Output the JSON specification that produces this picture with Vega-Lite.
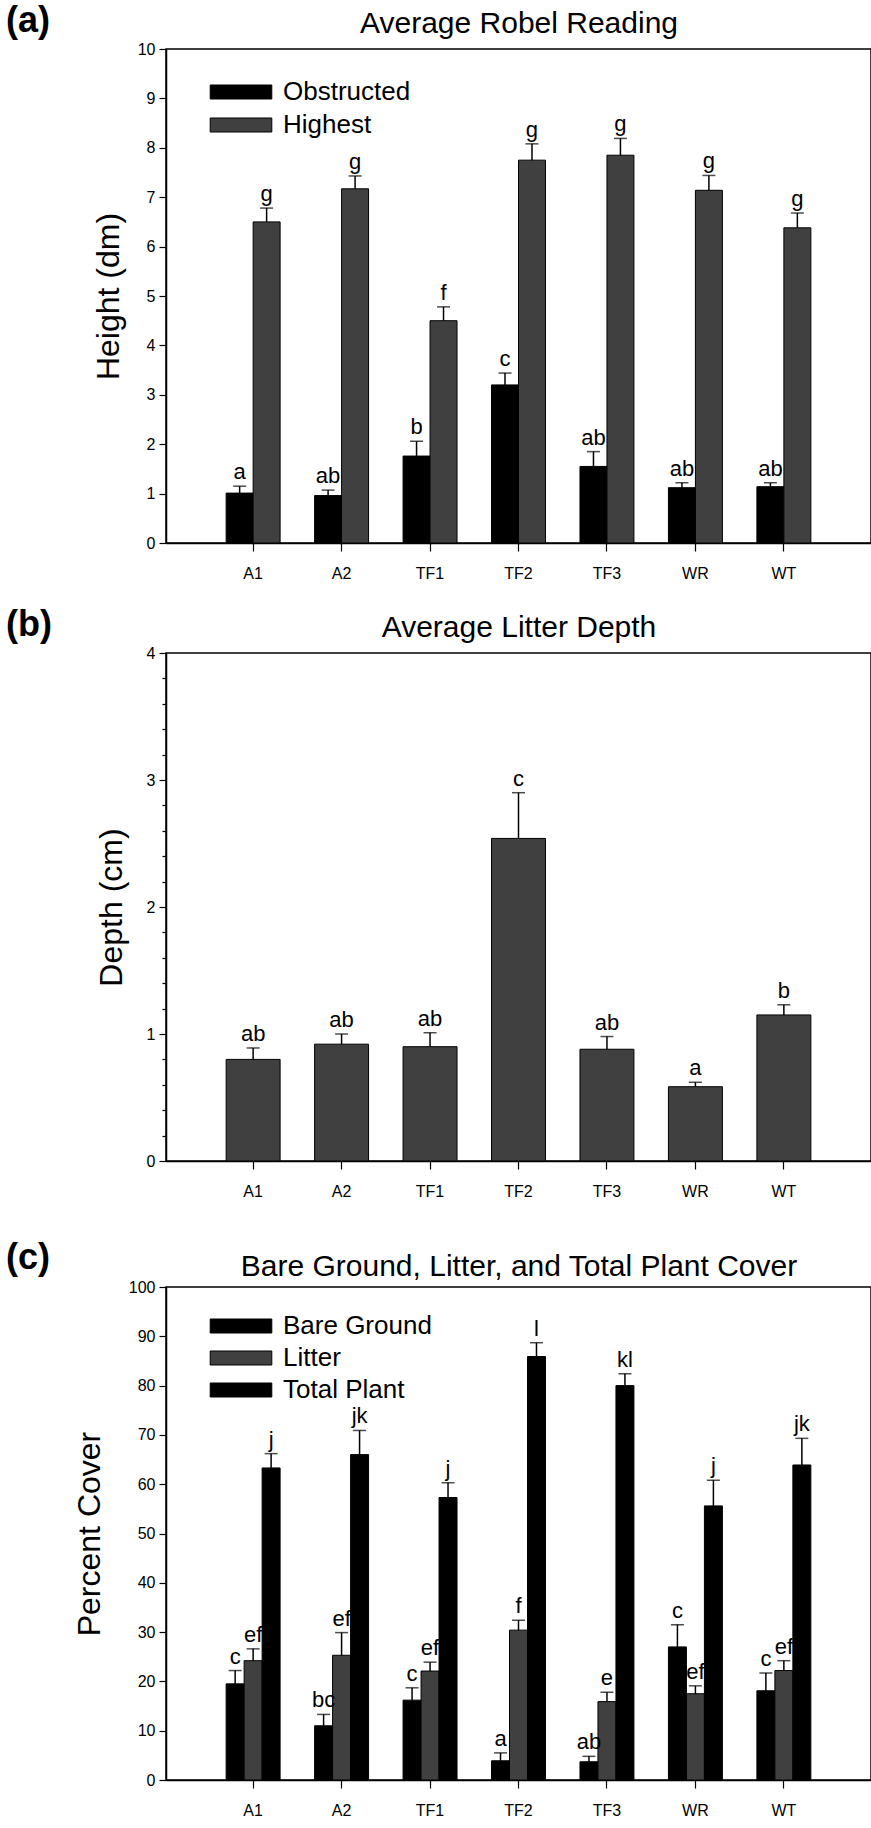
{
  "$schema": "https://vega.github.io/schema/vega-lite/v6.json",
  "background": "white",
  "padding": {"left": 5, "top": 2, "right": 0, "bottom": 0},
  "spacing": 39,
  "resolve": {"scale": {"color": "independent", "xOffset": "independent"}, "legend": {"color": "independent"}},
  "datasets": {
    "robel": [
      {"site": "A1", "measure": "Obstructed", "value": 1.01, "err": 1.15, "letter": "a"},
      {"site": "A1", "measure": "Highest", "value": 6.5, "err": 6.78, "letter": "g"},
      {"site": "A2", "measure": "Obstructed", "value": 0.96, "err": 1.07, "letter": "ab"},
      {"site": "A2", "measure": "Highest", "value": 7.17, "err": 7.43, "letter": "g"},
      {"site": "TF1", "measure": "Obstructed", "value": 1.76, "err": 2.06, "letter": "b"},
      {"site": "TF1", "measure": "Highest", "value": 4.5, "err": 4.78, "letter": "f"},
      {"site": "TF2", "measure": "Obstructed", "value": 3.2, "err": 3.44, "letter": "c"},
      {"site": "TF2", "measure": "Highest", "value": 7.75, "err": 8.08, "letter": "g"},
      {"site": "TF3", "measure": "Obstructed", "value": 1.55, "err": 1.85, "letter": "ab"},
      {"site": "TF3", "measure": "Highest", "value": 7.85, "err": 8.19, "letter": "g"},
      {"site": "WR", "measure": "Obstructed", "value": 1.12, "err": 1.22, "letter": "ab"},
      {"site": "WR", "measure": "Highest", "value": 7.14, "err": 7.44, "letter": "g"},
      {"site": "WT", "measure": "Obstructed", "value": 1.14, "err": 1.22, "letter": "ab"},
      {"site": "WT", "measure": "Highest", "value": 6.38, "err": 6.68, "letter": "g"}
    ],
    "litter": [
      {"site": "A1", "value": 0.8, "err": 0.89, "letter": "ab"},
      {"site": "A2", "value": 0.92, "err": 1.0, "letter": "ab"},
      {"site": "TF1", "value": 0.9, "err": 1.01, "letter": "ab"},
      {"site": "TF2", "value": 2.54, "err": 2.9, "letter": "c"},
      {"site": "TF3", "value": 0.88, "err": 0.98, "letter": "ab"},
      {"site": "WR", "value": 0.585, "err": 0.62, "letter": "a"},
      {"site": "WT", "value": 1.15, "err": 1.23, "letter": "b"}
    ],
    "cover": [
      {"site": "A1", "measure": "Bare Ground", "value": 19.5, "err": 22.2, "letter": "c"},
      {"site": "A1", "measure": "Litter", "value": 24.2, "err": 26.6, "letter": "ef"},
      {"site": "A1", "measure": "Total Plant", "value": 63.3, "err": 66.2, "letter": "j"},
      {"site": "A2", "measure": "Bare Ground", "value": 11.0, "err": 13.3, "letter": "bc"},
      {"site": "A2", "measure": "Litter", "value": 25.3, "err": 29.9, "letter": "ef"},
      {"site": "A2", "measure": "Total Plant", "value": 66.0, "err": 70.9, "letter": "jk"},
      {"site": "TF1", "measure": "Bare Ground", "value": 16.2, "err": 18.7, "letter": "c"},
      {"site": "TF1", "measure": "Litter", "value": 22.1, "err": 23.9, "letter": "ef"},
      {"site": "TF1", "measure": "Total Plant", "value": 57.3, "err": 60.3, "letter": "j"},
      {"site": "TF2", "measure": "Bare Ground", "value": 3.9, "err": 5.5, "letter": "a"},
      {"site": "TF2", "measure": "Litter", "value": 30.4, "err": 32.4, "letter": "f"},
      {"site": "TF2", "measure": "Total Plant", "value": 85.9, "err": 88.7, "letter": "l"},
      {"site": "TF3", "measure": "Bare Ground", "value": 3.7, "err": 4.8, "letter": "ab"},
      {"site": "TF3", "measure": "Litter", "value": 15.9, "err": 17.8, "letter": "e"},
      {"site": "TF3", "measure": "Total Plant", "value": 80.0, "err": 82.4, "letter": "kl"},
      {"site": "WR", "measure": "Bare Ground", "value": 27.0, "err": 31.5, "letter": "c"},
      {"site": "WR", "measure": "Litter", "value": 17.5, "err": 19.1, "letter": "ef"},
      {"site": "WR", "measure": "Total Plant", "value": 55.6, "err": 60.8, "letter": "j"},
      {"site": "WT", "measure": "Bare Ground", "value": 18.1, "err": 21.7, "letter": "c"},
      {"site": "WT", "measure": "Litter", "value": 22.2, "err": 24.2, "letter": "ef"},
      {"site": "WT", "measure": "Total Plant", "value": 63.9, "err": 69.3, "letter": "jk"}
    ]
  },
  "config": {
    "font": "Liberation Sans",
    "view": {"stroke": "black", "strokeWidth": 1.5},
    "axis": {
      "domainColor": "black", "domainWidth": 1.5, "tickColor": "black", "tickWidth": 1.2,
      "labelColor": "black", "titleColor": "black", "titleFontWeight": "normal", "grid": false,
      "labelFontSize": 16, "labelOverlap": false
    },
    "text": {"color": "black"}
  },
  "vconcat": [
    {
      "spacing": 24,
      "resolve": {"scale": {"color": "independent", "xOffset": "independent"}, "legend": {"color": "independent"}},
      "vconcat": [
        {
          "width": 705, "height": 494,
          "title": {"text": "(a)", "anchor": "start", "frame": "group", "fontSize": 36, "fontWeight": "bold", "dx": -160, "dy": 36},
          "data": {"name": "robel"},
          "resolve": {"axis": {"x": "independent"}},
          "layer": [
            {
              "mark": {"type": "bar", "stroke": "black", "strokeWidth": 1},
              "encoding": {
                "x": {"field": "site", "type": "nominal", "sort": ["A1","A2","TF1","TF2","TF3","WR","WT"], "scale": {"paddingInner": 0.39, "paddingOuter": 0.68},
                      "axis": {"orient": "bottom", "title": null, "labelAngle": 0, "tickSize": 8, "labelPadding": 14}},
                "xOffset": {"field": "measure", "type": "nominal", "sort": ["Obstructed","Highest"]},
                "y": {"field": "value", "type": "quantitative", "title": "Height (dm)", "scale": {"domain": [0, 10], "nice": false},
                      "axis": {"values": [0,1,2,3,4,5,6,7,8,9,10], "tickSize": 7, "labelPadding": 4, "titleFontSize": 32, "titlePadding": 12}},
                "color": {"field": "measure", "type": "nominal", "sort": ["Obstructed","Highest"],
                          "scale": {"domain": ["Obstructed","Highest"], "range": ["#000000","#404040"]},
                          "legend": {"title": null, "orient": "none", "legendX": 62, "legendY": 30, "padding": 0,
                                     "symbolType": "M-4.4,-1H4.4V1H-4.4Z", "symbolSize": 196, "symbolStrokeColor": "black", "symbolStrokeWidth": 1,
                                     "labelFontSize": 26, "labelOffset": 29, "rowPadding": 7, "labelColor": "black"}}
              }
            },
            {
              "mark": {"type": "rule", "strokeWidth": 1.5, "color": "black"},
              "encoding": {
                "x": {"field": "site", "type": "nominal", "sort": ["A1","A2","TF1","TF2","TF3","WR","WT"], "axis": null},
                "xOffset": {"field": "measure", "type": "nominal", "sort": ["Obstructed","Highest"]},
                "y": {"field": "value", "type": "quantitative", "title": "Height (dm)", "scale": {"domain": [0, 10], "nice": false}},
                "y2": {"field": "err"}
              }
            },
            {
              "mark": {"type": "tick", "orient": "horizontal", "size": 13, "thickness": 1.5, "color": "black"},
              "encoding": {
                "x": {"field": "site", "type": "nominal", "sort": ["A1","A2","TF1","TF2","TF3","WR","WT"], "axis": null},
                "xOffset": {"field": "measure", "type": "nominal", "sort": ["Obstructed","Highest"]},
                "y": {"field": "err", "type": "quantitative", "title": "Height (dm)", "scale": {"domain": [0, 10], "nice": false}}
              }
            },
            {
              "mark": {"type": "text", "baseline": "bottom", "dy": -2, "fontSize": 22},
              "encoding": {
                "x": {"field": "site", "type": "nominal", "sort": ["A1","A2","TF1","TF2","TF3","WR","WT"],
                      "axis": {"orient": "top", "title": "Average Robel Reading", "labels": false, "ticks": false, "domain": false, "titleFontSize": 30, "titlePadding": 11}},
                "xOffset": {"field": "measure", "type": "nominal", "sort": ["Obstructed","Highest"]},
                "y": {"field": "err", "type": "quantitative", "title": "Height (dm)", "scale": {"domain": [0, 10], "nice": false}},
                "text": {"field": "letter"}
              }
            }
          ]
        },
        {
          "width": 705, "height": 508,
          "title": {"text": "(b)", "anchor": "start", "frame": "group", "fontSize": 36, "fontWeight": "bold", "dx": -160, "dy": 36},
          "data": {"name": "litter"},
          "resolve": {"axis": {"x": "independent", "y": "independent"}},
          "layer": [
            {
              "mark": {"type": "bar", "stroke": "black", "strokeWidth": 1, "color": "#404040"},
              "encoding": {
                "x": {"field": "site", "type": "nominal", "sort": ["A1","A2","TF1","TF2","TF3","WR","WT"], "scale": {"paddingInner": 0.39, "paddingOuter": 0.68},
                      "axis": {"orient": "bottom", "title": null, "labelAngle": 0, "tickSize": 8, "labelPadding": 14}},
                "y": {"field": "value", "type": "quantitative", "title": "Depth (cm)", "scale": {"domain": [0, 4], "nice": false},
                      "axis": {"orient": "left", "values": [0,1,2,3,4], "tickSize": 7, "labelPadding": 4, "titleFontSize": 32, "titlePadding": 18}}
              }
            },
            {
              "mark": {"type": "rule", "strokeWidth": 1.5, "color": "black"},
              "encoding": {
                "x": {"field": "site", "type": "nominal", "sort": ["A1","A2","TF1","TF2","TF3","WR","WT"], "axis": null},
                "y": {"field": "value", "type": "quantitative", "scale": {"domain": [0, 4], "nice": false},
                      "axis": {"orient": "left", "title": null, "values": [0.2,0.4,0.6,0.8,1.2,1.4,1.6,1.8,2.2,2.4,2.6,2.8,3.2,3.4,3.6,3.8], "labels": false, "domain": false, "tickSize": 4}},
                "y2": {"field": "err"}
              }
            },
            {
              "mark": {"type": "tick", "orient": "horizontal", "size": 13, "thickness": 1.5, "color": "black"},
              "encoding": {
                "x": {"field": "site", "type": "nominal", "sort": ["A1","A2","TF1","TF2","TF3","WR","WT"], "axis": null},
                "y": {"field": "err", "type": "quantitative", "scale": {"domain": [0, 4], "nice": false}, "axis": null}
              }
            },
            {
              "mark": {"type": "text", "baseline": "bottom", "dy": -2, "fontSize": 22},
              "encoding": {
                "x": {"field": "site", "type": "nominal", "sort": ["A1","A2","TF1","TF2","TF3","WR","WT"],
                      "axis": {"orient": "top", "title": "Average Litter Depth", "labels": false, "ticks": false, "domain": false, "titleFontSize": 30, "titlePadding": 11}},
                "y": {"field": "err", "type": "quantitative", "scale": {"domain": [0, 4], "nice": false}, "axis": null},
                "text": {"field": "letter"}
              }
            }
          ]
        }
      ]
    },
    {
      "width": 705, "height": 493,
      "title": {"text": "(c)", "anchor": "start", "frame": "group", "fontSize": 36, "fontWeight": "bold", "dx": -160, "dy": 30},
      "data": {"name": "cover"},
      "resolve": {"axis": {"x": "independent"}},
      "layer": [
        {
          "mark": {"type": "bar", "stroke": "black", "strokeWidth": 1},
          "encoding": {
            "x": {"field": "site", "type": "nominal", "sort": ["A1","A2","TF1","TF2","TF3","WR","WT"], "scale": {"paddingInner": 0.39, "paddingOuter": 0.68},
                  "axis": {"orient": "bottom", "title": null, "labelAngle": 0, "tickSize": 8, "labelPadding": 14}},
            "xOffset": {"field": "measure", "type": "nominal", "sort": ["Bare Ground","Litter","Total Plant"]},
            "y": {"field": "value", "type": "quantitative", "title": "Percent Cover", "scale": {"domain": [0, 100], "nice": false},
                  "axis": {"values": [0,10,20,30,40,50,60,70,80,90,100], "tickSize": 7, "labelPadding": 4, "titleFontSize": 32, "titlePadding": 22}},
            "color": {"field": "measure", "type": "nominal", "sort": ["Bare Ground","Litter","Total Plant"],
                      "scale": {"domain": ["Bare Ground","Litter","Total Plant"], "range": ["#000000","#404040","#000000"]},
                      "legend": {"title": null, "orient": "none", "legendX": 62, "legendY": 26, "padding": 0,
                                 "symbolType": "M-4.4,-1H4.4V1H-4.4Z", "symbolSize": 196, "symbolStrokeColor": "black", "symbolStrokeWidth": 1,
                                 "labelFontSize": 26, "labelOffset": 29, "rowPadding": 6, "labelColor": "black"}}
          }
        },
        {
          "mark": {"type": "rule", "strokeWidth": 1.5, "color": "black"},
          "encoding": {
            "x": {"field": "site", "type": "nominal", "sort": ["A1","A2","TF1","TF2","TF3","WR","WT"], "axis": null},
            "xOffset": {"field": "measure", "type": "nominal", "sort": ["Bare Ground","Litter","Total Plant"]},
            "y": {"field": "value", "type": "quantitative", "title": "Percent Cover", "scale": {"domain": [0, 100], "nice": false}},
            "y2": {"field": "err"}
          }
        },
        {
          "mark": {"type": "tick", "orient": "horizontal", "size": 13, "thickness": 1.5, "color": "black"},
          "encoding": {
            "x": {"field": "site", "type": "nominal", "sort": ["A1","A2","TF1","TF2","TF3","WR","WT"], "axis": null},
            "xOffset": {"field": "measure", "type": "nominal", "sort": ["Bare Ground","Litter","Total Plant"]},
            "y": {"field": "err", "type": "quantitative", "title": "Percent Cover", "scale": {"domain": [0, 100], "nice": false}}
          }
        },
        {
          "mark": {"type": "text", "baseline": "bottom", "dy": -2, "fontSize": 22},
          "encoding": {
            "x": {"field": "site", "type": "nominal", "sort": ["A1","A2","TF1","TF2","TF3","WR","WT"],
                  "axis": {"orient": "top", "title": "Bare Ground, Litter, and Total Plant Cover", "labels": false, "ticks": false, "domain": false, "titleFontSize": 30, "titlePadding": 6}},
            "xOffset": {"field": "measure", "type": "nominal", "sort": ["Bare Ground","Litter","Total Plant"]},
            "y": {"field": "err", "type": "quantitative", "title": "Percent Cover", "scale": {"domain": [0, 100], "nice": false}},
            "text": {"field": "letter"}
          }
        }
      ]
    }
  ]
}
